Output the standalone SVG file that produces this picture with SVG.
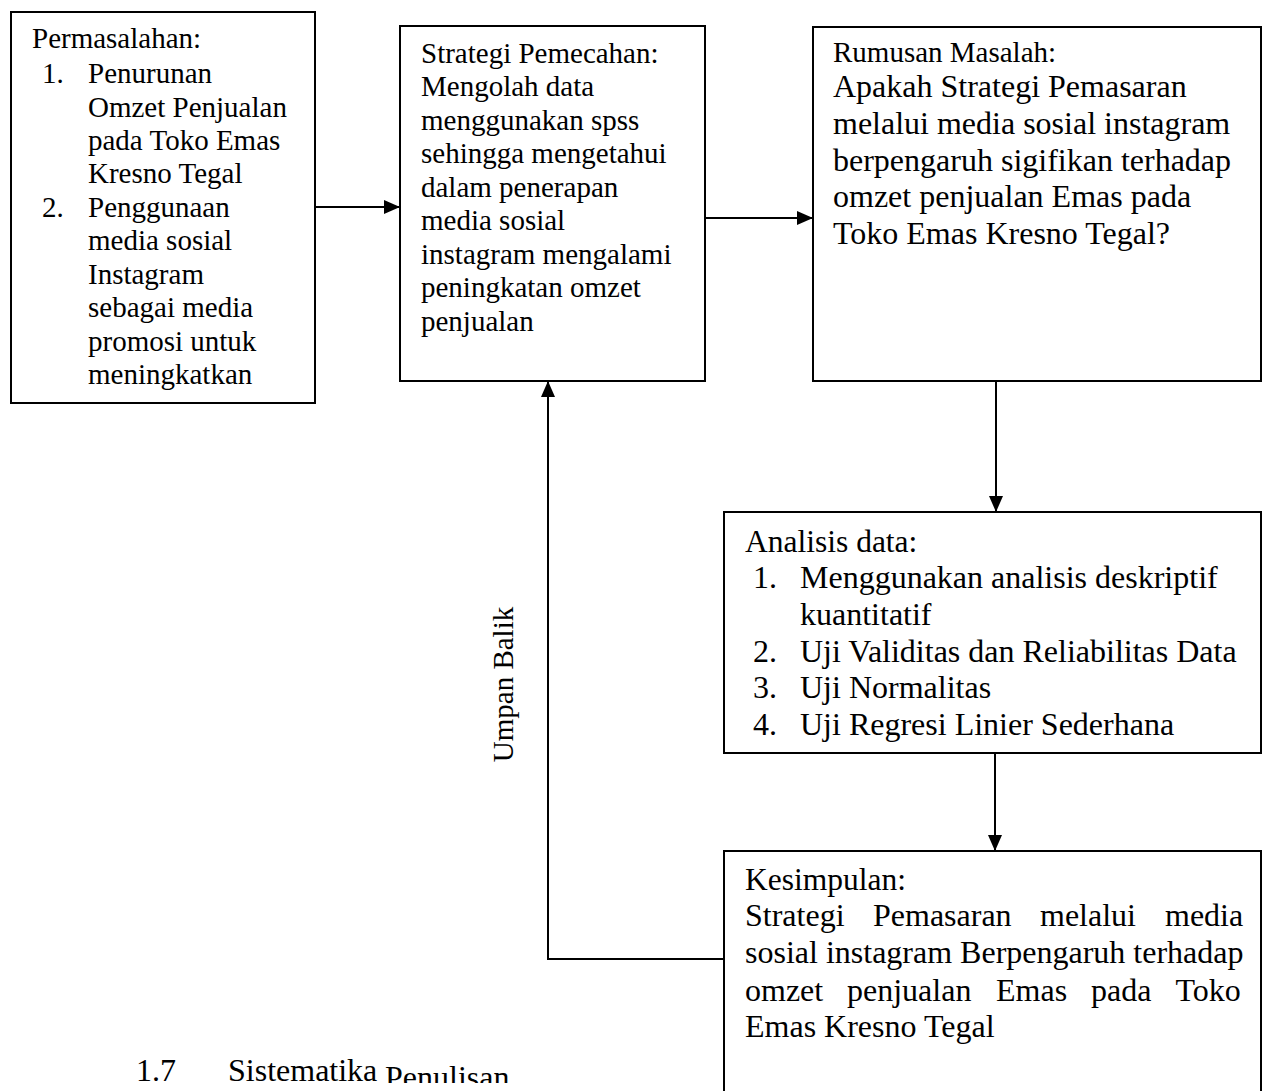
<svg xmlns="http://www.w3.org/2000/svg" width="1262" height="1091" viewBox="0 0 1262 1091">
<style>
.box{fill:#fff;stroke:#000;stroke-width:2}
.t{font-family:"Liberation Serif","Times New Roman",serif;fill:#000}
.s29{font-size:29px}
.s31{font-size:31.5px}
.s32{font-size:32px}
.conn{fill:none;stroke:#000;stroke-width:2}
</style>
<defs>
<marker id="ah" markerUnits="userSpaceOnUse" markerWidth="16" markerHeight="14" refX="16" refY="7" orient="auto">
<path d="M0,0 L16,7 L0,14 z" fill="#000"/>
</marker>
<clipPath id="clipPen"><rect x="0" y="0" width="1262" height="1083"/></clipPath>
</defs>
<rect width="1262" height="1091" fill="#fff"/>
<g id="connectors">
<path class="conn" d="M315,207 H400" marker-end="url(#ah)"/>
<path class="conn" d="M705,218 H813" marker-end="url(#ah)"/>
<path class="conn" d="M996,381 V512" marker-end="url(#ah)"/>
<path class="conn" d="M995,753 V851" marker-end="url(#ah)"/>
<path class="conn" d="M724,959 H548 V381" marker-end="url(#ah)"/>
<text class="t s29" x="513" y="684.5" text-anchor="middle" transform="rotate(-90 513 684.5)">Umpan Balik</text>
</g>
<g id="permasalahan">
<rect class="box" x="11" y="12" width="304" height="391"/>
<text class="t s29">
<tspan x="32" y="48">Permasalahan:</tspan>
<tspan x="42" y="83">1.</tspan><tspan x="88" y="83">Penurunan</tspan>
<tspan x="88" y="117">Omzet Penjualan</tspan>
<tspan x="88" y="150">pada Toko Emas</tspan>
<tspan x="88" y="183">Kresno Tegal</tspan>
<tspan x="42" y="217">2.</tspan><tspan x="88" y="217">Penggunaan</tspan>
<tspan x="88" y="250">media sosial</tspan>
<tspan x="88" y="284">Instagram</tspan>
<tspan x="88" y="317">sebagai media</tspan>
<tspan x="88" y="351">promosi untuk</tspan>
<tspan x="88" y="384">meningkatkan</tspan>
</text>
</g>
<g id="strategi">
<rect class="box" x="400" y="26" width="305" height="355"/>
<text class="t s29">
<tspan x="421" y="63">Strategi Pemecahan:</tspan>
<tspan x="421" y="96">Mengolah data</tspan>
<tspan x="421" y="130">menggunakan spss</tspan>
<tspan x="421" y="163">sehingga mengetahui</tspan>
<tspan x="421" y="197">dalam penerapan</tspan>
<tspan x="421" y="230">media sosial</tspan>
<tspan x="421" y="264">instagram mengalami</tspan>
<tspan x="421" y="297">peningkatan omzet</tspan>
<tspan x="421" y="331">penjualan</tspan>
</text>
</g>
<g id="rumusan">
<rect class="box" x="813" y="27" width="448" height="354"/>
<text class="t s29" x="833" y="62">Rumusan Masalah:</text>
<text class="t s32">
<tspan x="833" y="97">Apakah Strategi Pemasaran</tspan>
<tspan x="833" y="134">melalui media sosial instagram</tspan>
<tspan x="833" y="171">berpengaruh sigifikan terhadap</tspan>
<tspan x="833" y="207">omzet penjualan Emas pada</tspan>
<tspan x="833" y="244">Toko Emas Kresno Tegal?</tspan>
</text>
</g>
<g id="analisis">
<rect class="box" x="724" y="512" width="537" height="241"/>
<text class="t s31" x="745" y="552">Analisis data:</text>
<text class="t s32">
<tspan x="753" y="588">1.</tspan><tspan x="800" y="588">Menggunakan analisis deskriptif</tspan>
<tspan x="800" y="625">kuantitatif</tspan>
<tspan x="753" y="662">2.</tspan><tspan x="800" y="662">Uji Validitas dan Reliabilitas Data</tspan>
<tspan x="753" y="698">3.</tspan><tspan x="800" y="698">Uji Normalitas</tspan>
<tspan x="753" y="735">4.</tspan><tspan x="800" y="735">Uji Regresi Linier Sederhana</tspan>
</text>
</g>
<g id="kesimpulan">
<rect class="box" x="724" y="851" width="537" height="260"/>
<text class="t s31" x="745" y="890">Kesimpulan:</text>
<text class="t s32">
<tspan x="745" y="926">Strategi</tspan><tspan x="873" y="926">Pemasaran</tspan><tspan x="1040" y="926">melalui</tspan><tspan x="1165" y="926">media</tspan>
<tspan x="745" y="963">sosial instagram Berpengaruh terhadap</tspan>
<tspan x="745" y="1001">omzet</tspan><tspan x="847" y="1001">penjualan</tspan><tspan x="996" y="1001">Emas</tspan><tspan x="1091" y="1001">pada</tspan><tspan x="1175.5" y="1001">Toko</tspan>
<tspan x="745" y="1037">Emas Kresno Tegal</tspan>
</text>
</g>
<g id="heading">
<text class="t s32" x="136" y="1081">1.7</text>
<text class="t s32" x="228" y="1081">Sistematika</text>
<text class="t s32" x="385" y="1088" clip-path="url(#clipPen)">Penulisan</text>
</g>
</svg>
